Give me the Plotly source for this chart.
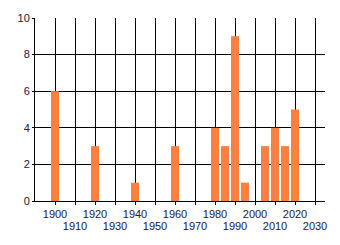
import plotly.graph_objects as go

years = [1900, 1920, 1940, 1960, 1980, 1985, 1990, 1995, 2005, 2010, 2015, 2020]
values = [6, 3, 1, 3, 4, 3, 9, 1, 3, 4, 3, 5]
tick_years = list(range(1900, 2031, 10))
upper_labels = [str(y) if (y // 10) % 2 == 0 else "" for y in tick_years]
lower_years = [y for y in tick_years if (y // 10) % 2 == 1]
lower_labels = [str(y) for y in lower_years]
y_ticks = [0, 2, 4, 6, 8, 10]

font = dict(family="Liberation Sans, Arial, sans-serif", size=11, color="#20203a")

fig = go.Figure()
fig.add_trace(go.Bar(x=years, y=values, width=4, marker=dict(color="#FF7F3F", line=dict(width=0))))

fig.update_layout(
    width=340, height=245,
    margin=dict(l=35, r=15, t=15, b=44),
    plot_bgcolor="white", paper_bgcolor="white",
    showlegend=False, font=font,
    xaxis=dict(range=[1890, 2035], tickvals=tick_years, ticktext=upper_labels,
               showgrid=True, gridcolor="black", gridwidth=1,
               showline=True, linecolor="black", linewidth=1,
               ticks="outside", ticklen=3, tickcolor="black",
               tickfont=font, zeroline=False),
    xaxis2=dict(range=[1890, 2035], overlaying="x", side="bottom", anchor="y",
                tickvals=lower_years, ticktext=lower_labels, showgrid=False,
                showline=False, ticks="", ticklabelstandoff=17, tickfont=font,
                zeroline=False),
    yaxis=dict(range=[0, 10], tickvals=y_ticks, showgrid=True, gridcolor="black",
               gridwidth=1, showline=True, linecolor="black", linewidth=1,
               ticks="outside", ticklen=2, tickcolor="black", tickfont=font,
               zeroline=False),
)
fig.add_trace(go.Scatter(x=[None], y=[None], xaxis="x2", showlegend=False))
fig.write_html("out.html")
